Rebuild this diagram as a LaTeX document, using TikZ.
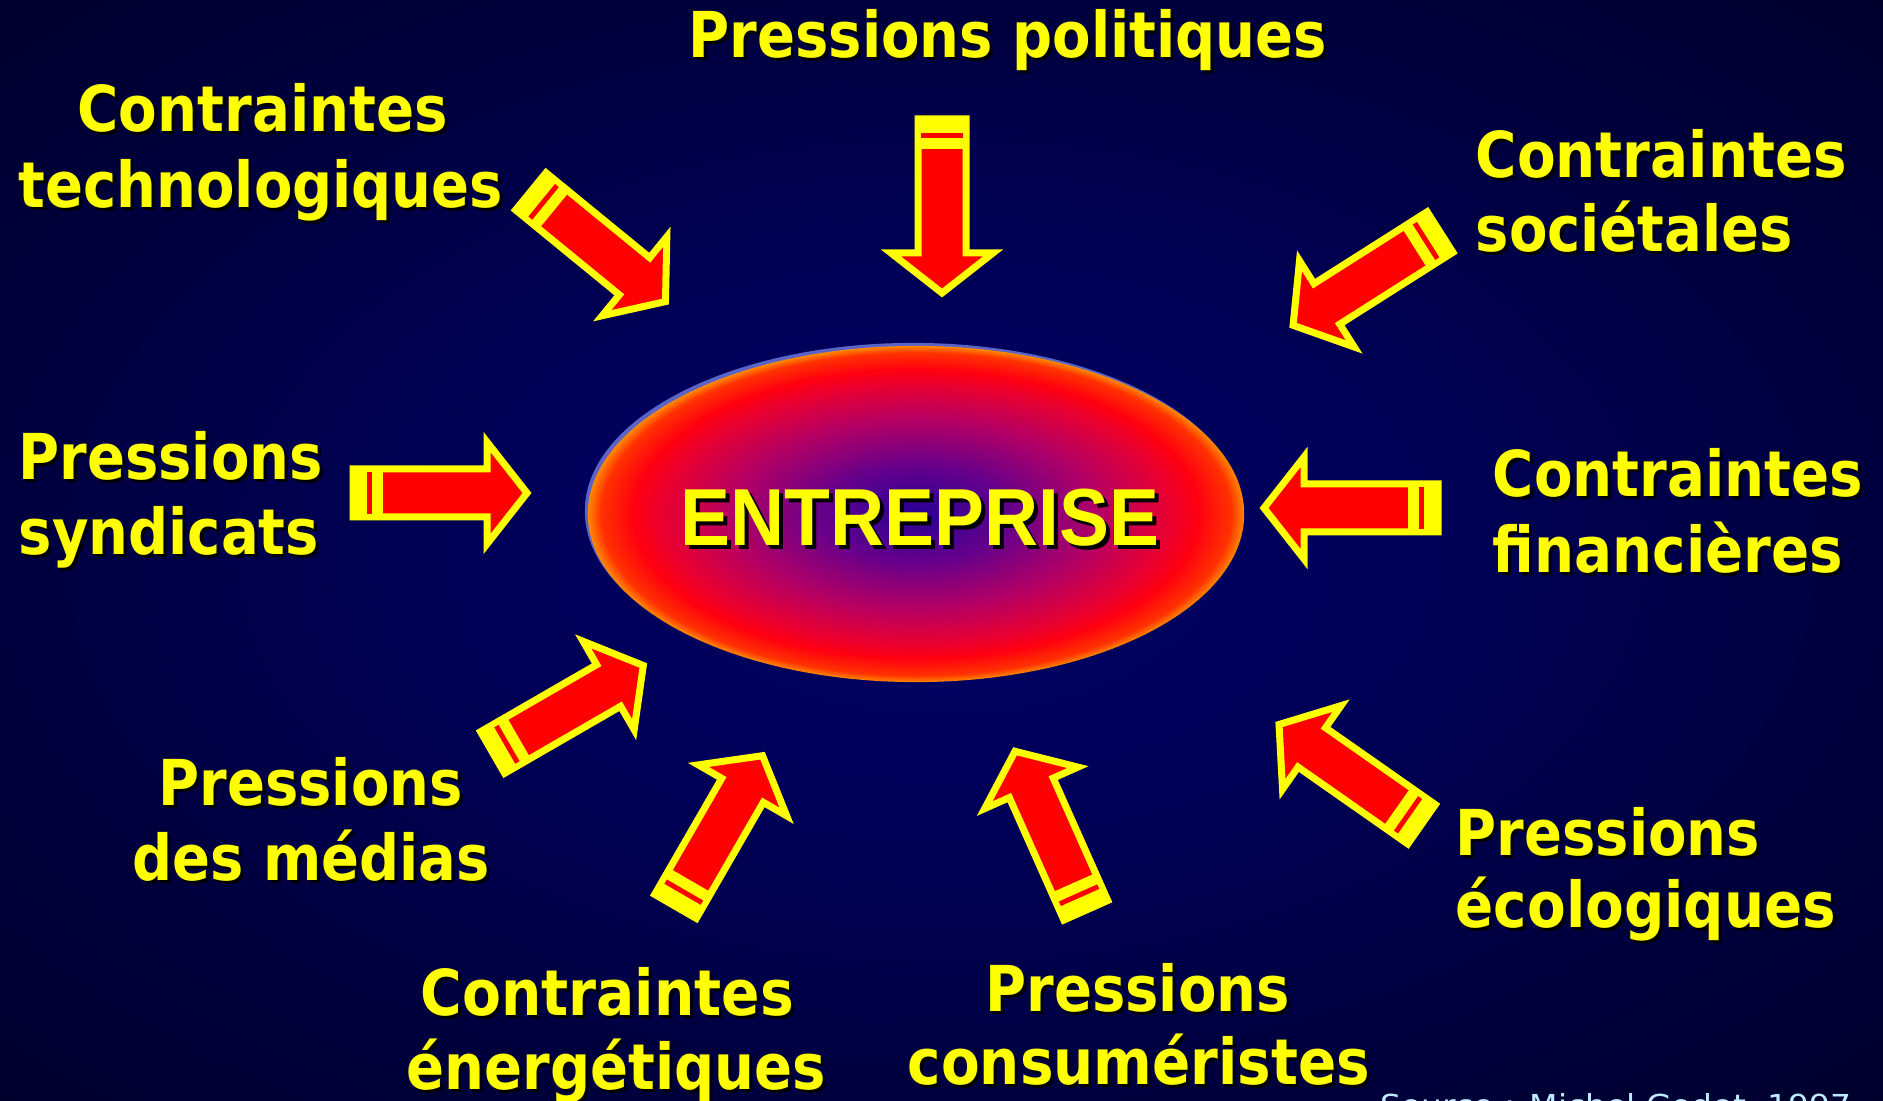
\documentclass[tikz,border=0pt]{standalone}
\usepackage{fontspec}
\usepackage{graphicx}
\setmainfont{DejaVu Sans}
\newfontfamily\entfont{Liberation Sans}
\usetikzlibrary{shapes.geometric}
\definecolor{yel}{RGB}{255,255,0}
\definecolor{ared}{RGB}{255,0,0}
\definecolor{bgA}{RGB}{0,0,100}
\definecolor{bgB}{RGB}{0,0,88}
\definecolor{bgC}{RGB}{0,0,62}
\definecolor{bgD}{RGB}{0,0,44}
\definecolor{eA}{RGB}{40,0,150}
\definecolor{eB}{RGB}{100,0,140}
\definecolor{eC}{RGB}{180,0,100}
\definecolor{eD}{RGB}{235,0,45}
\definecolor{eE}{RGB}{255,0,16}
\definecolor{eF}{RGB}{255,50,0}
\definecolor{eG}{RGB}{255,135,0}
\definecolor{rim}{RGB}{90,100,200}
\definecolor{srccol}{RGB}{190,235,255}
\pgfdeclareradialshading{bgshade}{\pgfpoint{0bp}{0bp}}{color(0bp)=(bgA); color(12bp)=(bgB); color(25bp)=(bgC); color(36bp)=(bgD); color(50bp)=(bgD)}
\pgfdeclareradialshading{ellshade}{\pgfpoint{0bp}{0bp}}{color(0bp)=(eA); color(7bp)=(eB); color(14bp)=(eC); color(19.5bp)=(eD); color(21.5bp)=(eE); color(24bp)=(eF); color(25bp)=(eG); color(50bp)=(eG)}
\newcommand\lbl[5]{%
  \node[txt,text=black,anchor=base west] at (#2+3,#3+3) {\resizebox{#4}{\height}{#5}};
  \node[txt,anchor=base west] (#1) at (#2,#3) {\resizebox{#4}{\height}{#5}};}
\newcommand\barrow[3]{%
  \begin{scope}[shift={(#1,#2)},rotate=#3]
    \filldraw[fill=ared,draw=yel,line width=0.07cm,line join=miter]
      (3,-24) -- (137,-24) -- (137,-51) -- (177,0) -- (137,51) -- (137,24) -- (3,24) -- cycle;
    \fill[yel] (0,-27) rectangle (33,27);
    \fill[ared] (17,-21) rectangle (22,21);
  \end{scope}}
\begin{document}
\begin{tikzpicture}[x=0.01cm,y=-0.01cm,
  txt/.style={inner sep=0pt,text=yel,font=\fontsize{18}{20}\selectfont\bfseries}]
\clip (0,0) rectangle (1883,1101);
\fill[shading=bgshade] (0,0) rectangle (1883,1101);
% central ellipse
\node[ellipse,fill=rim,minimum width=6.56cm,minimum height=3.36cm,inner sep=0pt] (rimell) at (913,511) {};
\node[ellipse,shading=ellshade,minimum width=6.56cm,minimum height=3.36cm,inner sep=0pt] (ent) at (916,514) {};
\node[inner sep=0pt,anchor=base west,text=black,font=\entfont\fontsize{23}{25}\selectfont\bfseries] at (684,550) {\resizebox{4.78cm}{\height}{ENTREPRISE}};
\node[inner sep=0pt,anchor=base west,text=yel,font=\entfont\fontsize{23}{25}\selectfont\bfseries] (entlbl) at (680,546) {\resizebox{4.78cm}{\height}{ENTREPRISE}};
% arrows
\barrow{942}{116}{-90}
\barrow{528.5}{189.5}{-39.3}
\barrow{1442.5}{230.5}{-147.6}
\barrow{350}{493}{0}
\barrow{1441}{508}{180}
\barrow{490}{754}{30}
\barrow{674}{909}{60}
\barrow{1087}{913}{114}
\barrow{1424}{826}{145}
% labels
\lbl{pp}{688}{58}{6.38cm}{Pressions politiques}
\lbl{techA}{77}{132}{3.70cm}{Contraintes}
\lbl{techB}{18}{208}{4.84cm}{technologiques}
\lbl{socA}{1475}{178}{3.71cm}{Contraintes}
\lbl{socB}{1475}{252}{3.17cm}{sociétales}
\lbl{synA}{18}{480}{3.04cm}{Pressions}
\lbl{synB}{18}{555}{3.00cm}{syndicats}
\lbl{finA}{1492}{497}{3.70cm}{Contraintes}
\lbl{finB}{1492}{573}{3.50cm}{financières}
\lbl{medA}{158}{805}{3.04cm}{Pressions}
\lbl{medB}{132}{880}{3.57cm}{des médias}
\lbl{ecoA}{1455}{855}{3.04cm}{Pressions}
\lbl{ecoB}{1455}{927}{3.80cm}{écologiques}
\lbl{eneA}{420}{1015}{3.73cm}{Contraintes}
\lbl{eneB}{406}{1089}{4.19cm}{énergétiques}
\lbl{conA}{985}{1011}{3.04cm}{Pressions}
\lbl{conB}{907}{1084}{4.62cm}{consuméristes}
\node[inner sep=0pt,anchor=base west,text=srccol,font=\fontsize{8.6}{10}\selectfont] (src) at (1380,1116) {\resizebox{4.70cm}{\height}{Source : Michel Godet, 1997}};
\end{tikzpicture}
\end{document}
